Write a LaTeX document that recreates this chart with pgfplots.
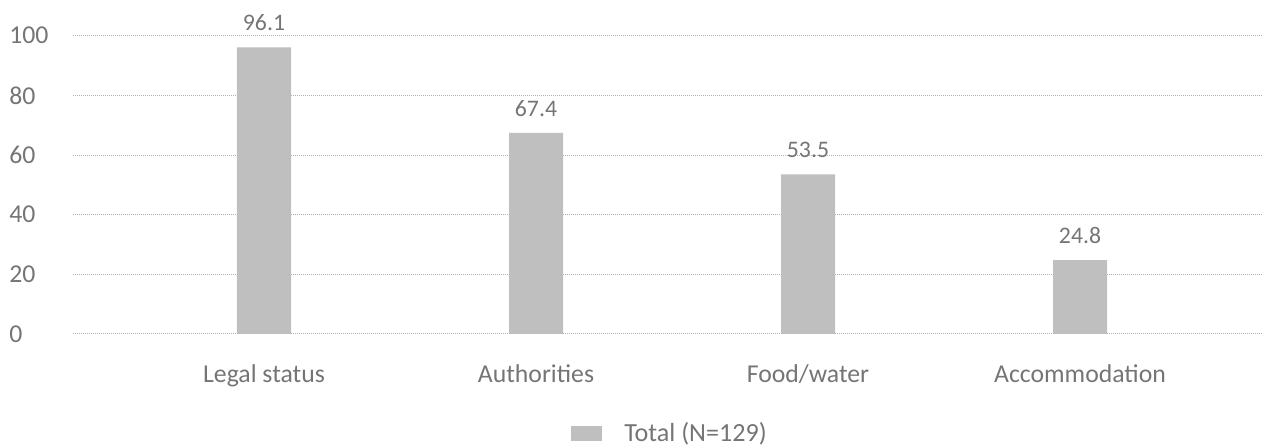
\documentclass[border=0pt]{standalone}
\usepackage{pgfplots}
\pgfplotsset{compat=1.18}
\usepackage{fontspec}
\setmainfont{Carlito}
\definecolor{barcol}{HTML}{BFBFBF}
\definecolor{txtcol}{HTML}{757575}
\definecolor{gridcol}{HTML}{B0B0B0}
\begin{document}
\begin{tikzpicture}
\begin{axis}[
  scale only axis,
  width=892.5pt, height=223.7pt,
  xmin=-0.7022, xmax=3.6728,
  ymin=0, ymax=100,
  ybar, bar width=40.5pt,
  axis line style={draw=none},
  major tick length=0pt,
  xtick={0,1,2,3},
  xticklabels={Legal status,Authorities,Food/water,Accommodation},
  ytick={0,20,40,60,80,100},
  ymajorgrids,
  major grid style={color=gridcol, line width=0.75pt, dash pattern=on 0.75pt off 0.75pt},
  /pgf/number format/assume math mode=true,
  tick label style={font=\fontsize{19.3pt}{22pt}\selectfont, text=txtcol},
  yticklabel style={anchor=west, inner sep=0pt, xshift=-48pt},
  xticklabel style={anchor=base, inner sep=0pt, yshift=-36.75pt},
  nodes near coords,
  nodes near coords style={font=\fontsize{17.8pt}{20pt}\selectfont, text=txtcol, anchor=base, inner sep=0pt, yshift=12.5pt,
    /pgf/number format/.cd, fixed, precision=1, zerofill, assume math mode=true},
  legend style={draw=none, fill=none, at={(axis description cs:0.5017,-0.333)}, anchor=center,
    font=\fontsize{19.6pt}{22pt}\selectfont, text=txtcol, inner sep=0pt,
    /tikz/every odd column/.append style={column sep=15pt}},
  legend image code/.code={\fill[barcol] (0pt,-6pt) rectangle (23.25pt,5.25pt);},
]
\addplot[fill=barcol, draw=none] coordinates {(0,96.1) (1,67.4) (2,53.5) (3,24.8)};
\addlegendentry{Total (N=129)}
\end{axis}
\pgfresetboundingbox
\path[use as bounding box] (-54.75pt,-85.5pt) rectangle (892.5pt,250.5pt);
\end{tikzpicture}
\end{document}
